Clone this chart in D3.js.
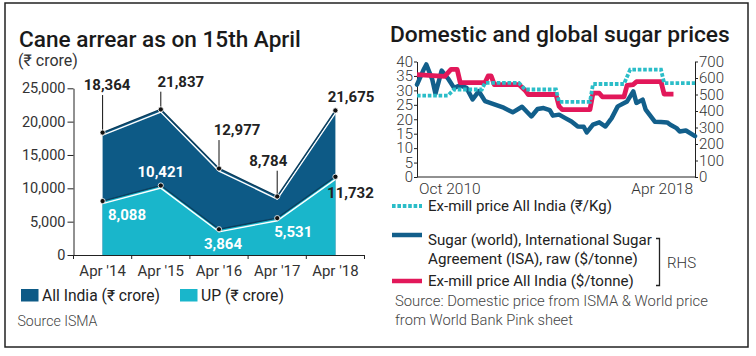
<!DOCTYPE html>
<html><head><meta charset="utf-8">
<script src="https://cdn.jsdelivr.net/npm/d3@7"></script>
<style>
body{margin:0;background:#fff}
svg{display:block}
text{font-family:Roboto,"Noto Sans",sans-serif}
</style>
</head><body>
<svg id="c" width="756" height="356"></svg>
<script>
// ---------- Data: left chart ----------
const years = ["Apr '14","Apr '15","Apr '16","Apr '17","Apr '18"];
const allIndia = [18364,21837,12977,8784,21675];
const upValues = [8088,10421,3864,5531,11732];
const arrearTicks = [0,5000,10000,15000,20000,25000];

// ---------- Data: right chart ----------
const worldDates = ["2010-10","2010-12","2011-01","2011-03","2011-04","2011-06","2011-08","2011-10","2011-12","2012-02","2012-04","2012-06","2012-08","2012-11","2013-02","2013-05","2013-08","2013-11","2014-01","2014-03","2014-05","2014-06","2014-08","2014-10","2014-12","2015-02","2015-04","2015-05","2015-07","2015-09","2015-11","2016-01","2016-03","2016-06","2016-08","2016-09","2016-11","2016-12","2017-03","2017-05","2017-07","2017-08","2017-10","2017-11","2018-01","2018-04"];
const worldValues = [560,645,682,590,505,645,598,540,555,540,470,520,460,440,420,392,426,367,412,418,405,372,378,357,337,306,304,270,317,331,306,357,428,458,519,449,469,408,335,333,331,317,296,276,282,248];

const exMillRsDates = ["2010-10","2011-08","2011-10","2012-07","2012-08","2013-07","2013-09","2014-07","2014-08","2015-06","2015-07","2016-05","2016-07","2017-05","2017-06","2018-04"];
const exMillRsValues = [28.2,28.2,30.3,30.3,32.6,32.6,30.3,30.3,26,26,32.2,32.2,37.2,37.2,32.5,32.5];

const exMillUsdDates = ["2010-10","2011-07","2011-09","2011-11","2011-12","2012-08","2012-09","2012-10","2012-11","2013-07","2013-09","2013-10","2014-07","2014-08","2014-09","2015-06","2015-07","2015-09","2015-10","2016-05","2016-06","2016-08","2016-09","2017-05","2017-06","2017-09"];
const exMillUsdValues = [621,610,652,652,572,572,612,612,560,560,525,500,500,428,408,408,508,508,486,486,555,560,578,578,502,502];

const lhsTicks = [0,5,10,15,20,25,30,35,40];
const rhsTicks = [0,100,200,300,400,500,600,700];
const timeTicks = ["2010-10","2018-04"];
const timeTickLabels = ["Oct 2010","Apr 2018"];

// ---------- Colours ----------
const C_ALL = "#0d5a86", C_UP = "#19b6cb";
const C_WORLD = "#125f8b", C_RED = "#e2185a", C_CYAN = "#2bbdc8";

const svg = d3.select("#c");
const parse = d3.timeParse("%Y-%m");

function fit(sel, w){
  const n = sel.node(); const fs = parseFloat(sel.attr("font-size"));
  const cw = n.getComputedTextLength();
  if (cw>0) sel.attr("font-size", fs*w/cw);
  return sel;
}

// frame
svg.append("rect").attr("x",5).attr("y",3).attr("width",743).attr("height",344)
  .attr("fill","none").attr("stroke","#222").attr("stroke-width",1.5);

// =============== LEFT CHART ===============
const L = svg.append("g");
fit(L.append("text").attr("x",19).attr("y",46.5).attr("font-size",21).attr("font-weight",500)
  .attr("fill","#1a1a1a").text("Cane arrear as on 15th April"), 282);
fit(L.append("text").attr("x",18).attr("y",66).attr("font-size",14).attr("fill","#333").text("(₹ crore)"), 60);

const x = d3.scaleBand().domain(years).range([73.5,364.5]);
const y = d3.scaleLinear().domain([0,25000]).range([255,88.3]);
const cx = d => x(d)+x.bandwidth()/2;

const area = (vals) => d3.area().x((d,i)=>cx(years[i])).y0(y(0)).y1(d=>y(d))(vals);
const line = (vals) => d3.line().x((d,i)=>cx(years[i])).y(d=>y(d))(vals);

L.append("path").attr("d",area(allIndia)).attr("fill",C_ALL);
L.append("path").attr("d",area(upValues)).attr("fill",C_UP);
[allIndia, upValues].forEach(v=>{
  L.append("path").attr("d",line(v)).attr("fill","none").attr("stroke","#fff")
    .attr("stroke-width",1.4).attr("transform","translate(0,2.6)");
  L.append("path").attr("d",line(v)).attr("fill","none").attr("stroke","#0b3d5c").attr("stroke-width",1.4);
});

// axes
const yAx = L.append("g").attr("transform","translate(73.5,0)")
  .call(d3.axisLeft(y).tickValues(arrearTicks).tickFormat(d3.format(",")).tickSize(6).tickSizeOuter(0));
yAx.select(".domain").attr("stroke","#222");
yAx.selectAll(".tick line").attr("stroke","#222");
yAx.selectAll(".tick text").attr("font-size",14.5).attr("fill","#333").attr("font-family","Roboto").attr("x",-8);

const xAx = L.append("g").attr("transform","translate(0,255)")
  .call(d3.axisBottom(x).tickSize(0).tickPadding(0));
xAx.select(".domain").attr("stroke","#222");
xAx.selectAll(".tick text").attr("font-size",15).attr("fill","#333").attr("font-family","Roboto").attr("y",16).attr("dy","0.3em");
// band edge ticks
L.append("g").selectAll("line").data(years.concat(["_end"])).join("line")
  .attr("x1",(d,i)=> i<years.length ? x(d) : x(years[years.length-1])+x.bandwidth())
  .attr("x2",(d,i)=> i<years.length ? x(d) : x(years[years.length-1])+x.bandwidth())
  .attr("y1",255).attr("y2",259).attr("stroke","#222");

// labels
const allOff = [[4.5,-42.5,true],[20,-22.7,true],[18,-33.4,true],[-9,-30.7,true],[15.6,-8.7,false]];
const upOff = [[24.4,19,"#fff"],[0,-8.8,"#fff"],[4,20,"#fff"],[16,18.6,"#fff"],[15,21.6,"#222"]];
allIndia.forEach((v,i)=>{
  const px = cx(years[i]), py = y(v), o = allOff[i];
  if (o[2]) L.append("line").attr("x1",px).attr("x2",px).attr("y1",py+o[1]+5).attr("y2",py)
    .attr("stroke","#111").attr("stroke-width",1);
  L.append("text").attr("x",px+o[0]).attr("y",py+o[1]).attr("text-anchor","middle")
    .attr("font-size",15).attr("font-weight",700).attr("fill","#222").text(d3.format(",")(v));
});
upValues.forEach((v,i)=>{
  const px = cx(years[i]), py = y(v), o = upOff[i];
  L.append("text").attr("x",px+o[0]).attr("y",py+o[1]).attr("text-anchor","middle")
    .attr("font-size",15).attr("font-weight",700).attr("fill",o[2]).text(d3.format(",")(v));
});
[allIndia, upValues].forEach(v=>{
  L.append("g").selectAll("circle").data(v).join("circle")
    .attr("cx",(d,i)=>cx(years[i])).attr("cy",d=>y(d)).attr("r",2.6)
    .attr("fill","#111").attr("stroke","#fff").attr("stroke-width",0.8);
});

// legend
L.append("rect").attr("x",21).attr("y",289).attr("width",17.5).attr("height",12.5).attr("fill",C_ALL);
fit(L.append("text").attr("x",42).attr("y",301).attr("font-size",14.5).attr("fill","#222").text("All India (₹ crore)"),118);
L.append("rect").attr("x",180).attr("y",289).attr("width",17.5).attr("height",12.5).attr("fill",C_UP);
fit(L.append("text").attr("x",201).attr("y",301).attr("font-size",14.5).attr("fill","#222").text("UP (₹ crore)"),83);
fit(L.append("text").attr("x",17.5).attr("y",326).attr("font-size",13).attr("font-weight",300).attr("fill","#444").text("Source ISMA"),80);

// =============== RIGHT CHART ===============
const R = svg.append("g");
fit(R.append("text").attr("x",390).attr("y",41.7).attr("font-size",21).attr("font-weight",500)
  .attr("fill","#1a1a1a").text("Domestic and global sugar prices"), 340);

const xt = d3.scaleTime().domain([parse("2010-10"), parse("2018-04")]).range([417,695]);
const yl = d3.scaleLinear().domain([0,40]).range([177,61.5]);
const yr = d3.scaleLinear().domain([0,700]).range([177,61.5]);

const lAx = R.append("g").attr("transform","translate(417,0)")
  .call(d3.axisLeft(yl).tickValues(lhsTicks).tickSize(3).tickSizeOuter(0));
const rAx = R.append("g").attr("transform","translate(695,0)")
  .call(d3.axisRight(yr).tickValues(rhsTicks).tickSize(3).tickSizeOuter(0));
[lAx,rAx].forEach(a=>{
  a.select(".domain").attr("stroke","#222");
  a.selectAll(".tick line").attr("stroke","#222");
  a.selectAll(".tick text").attr("font-size",15).attr("font-weight",300).attr("fill","#333").attr("font-family","Roboto");
});
lAx.selectAll(".tick text").attr("x",-4);
rAx.selectAll(".tick text").attr("x",4);
R.append("line").attr("x1",417).attr("x2",695).attr("y1",177).attr("y2",177).attr("stroke","#222");
timeTicks.forEach((t,i)=>{
  R.append("text").attr("x",xt(parse(t))+(i===0?2:-2)).attr("y",193.5)
    .attr("text-anchor",i===0?"start":"end").attr("font-size",15.5).attr("font-weight",300)
    .attr("fill","#333").text(timeTickLabels[i]);
});

const lineOf = (dates, vals, ys) => d3.line().x((d,i)=>xt(parse(dates[i]))).y((d,i)=>ys(vals[i]))(vals);
R.append("path").attr("d",lineOf(worldDates,worldValues,yr)).attr("fill","none")
  .attr("stroke",C_WORLD).attr("stroke-width",4.5).attr("stroke-linejoin","round").attr("stroke-linecap","round");
R.append("path").attr("d",lineOf(exMillUsdDates,exMillUsdValues,yr)).attr("fill","none")
  .attr("stroke",C_RED).attr("stroke-width",4.8).attr("stroke-linejoin","round");
R.append("path").attr("d",lineOf(exMillRsDates,exMillRsValues,yl)).attr("fill","none")
  .attr("stroke",C_CYAN).attr("stroke-width",3.8).attr("stroke-dasharray","3.6 1.8");

// legend
R.append("line").attr("x1",392).attr("x2",422).attr("y1",206).attr("y2",206)
  .attr("stroke",C_CYAN).attr("stroke-width",3.8).attr("stroke-dasharray","3.6 1.8");
fit(R.append("text").attr("x",428).attr("y",211).attr("font-size",15).attr("fill","#222").text("Ex-mill price All India (₹/Kg)"),184);
R.append("line").attr("x1",392).attr("x2",422).attr("y1",235).attr("y2",235)
  .attr("stroke",C_WORLD).attr("stroke-width",4.5);
fit(R.append("text").attr("x",428).attr("y",245).attr("font-size",15).attr("fill","#222").text("Sugar (world), International Sugar"),224);
fit(R.append("text").attr("x",428).attr("y",263.5).attr("font-size",15).attr("fill","#222").text("Agreement (ISA), raw ($/tonne)"),210);
R.append("line").attr("x1",392).attr("x2",422).attr("y1",281).attr("y2",281)
  .attr("stroke",C_RED).attr("stroke-width",4.5);
fit(R.append("text").attr("x",428).attr("y",286).attr("font-size",15).attr("fill","#222").text("Ex-mill price All India ($/tonne)"),206);
R.append("path").attr("d","M656,238.5H659.5V285.5H656").attr("fill","none").attr("stroke","#222").attr("stroke-width",1.3);
R.append("text").attr("x",667).attr("y",268).attr("font-size",15).attr("font-weight",300).attr("fill","#333").text("RHS");
fit(R.append("text").attr("x",395).attr("y",306).attr("font-size",14).attr("font-weight",300).attr("fill","#444").text("Source: Domestic price from ISMA & World price"),313);
fit(R.append("text").attr("x",395).attr("y",325).attr("font-size",14).attr("font-weight",300).attr("fill","#444").text("from World Bank Pink sheet"),178);
</script>
</body></html>
